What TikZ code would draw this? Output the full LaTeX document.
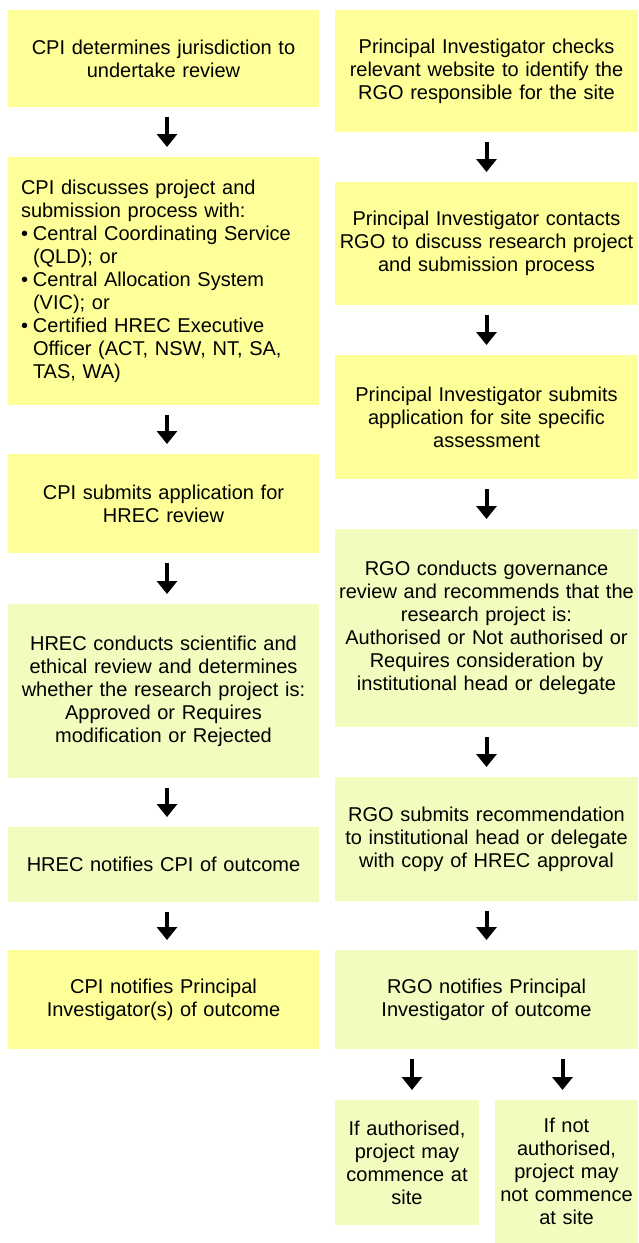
\documentclass[tikz,border=0pt]{standalone}
\usepackage{fontspec}
\setmainfont{Liberation Sans}
\usetikzlibrary{arrows.meta,calc}
\definecolor{boxyellow}{RGB}{255,255,153}
\definecolor{boxgreen}{RGB}{240,253,190}
\tikzset{
  base/.style={inner sep=0pt, outer sep=0pt, font=\fontsize{20}{23}\selectfont, align=center},
  lcol/.style={base, minimum width=311pt, text width=307pt},
  rcol/.style={base, minimum width=303pt, text width=299pt},
  yel/.style={fill=boxyellow},
  grn/.style={fill=boxgreen},
  arr/.style={line width=4pt, -{Triangle[width=20pt,length=13pt]}, shorten <=10pt, shorten >=10pt},
}
\newcommand{\bul}{\makebox[12pt][l]{\textbullet}}
\newcommand{\hang}{\hspace*{12pt}}
\begin{document}
\begin{tikzpicture}[x=1pt,y=-1pt]
\useasboundingbox (0,0) rectangle (638,1243);
% left column
\node[lcol,yel,minimum height=97pt] (l1) at (163.5,58.5) {CPI determines jurisdiction to\\undertake review};
\node[base,yel,minimum width=311pt,minimum height=248pt,text width=285pt,align=left] (l2) at (163.5,281)
 {CPI discusses project and\\submission process with:\\\bul Central Coordinating Service\\\hang(QLD); or\\\bul Central Allocation System\\\hang(VIC); or\\\bul Certified HREC Executive\\\hang Officer (ACT, NSW, NT, SA,\\\hang TAS, WA)};
\node[lcol,yel,minimum height=99pt] (l3) at (163.5,503.5) {CPI submits application for\\HREC review};
\node[lcol,grn,minimum height=174pt] (l4) at (163.5,691) {HREC conducts scientific and\\ethical review and determines\\whether the research project is:\\Approved or Requires\\modification or Rejected};
\node[lcol,grn,minimum height=75pt] (l5) at (163.5,864.5) {HREC notifies CPI of outcome};
\node[lcol,yel,minimum height=99pt] (l6) at (163.5,999.5) {CPI notifies Principal\\Investigator(s) of outcome};
% right column
\node[rcol,yel,minimum height=122pt] (r1) at (486.5,71) {Principal Investigator checks\\relevant website to identify the\\RGO responsible for the site};
\node[rcol,yel,minimum height=123pt] (r2) at (486.5,243.5) {Principal Investigator contacts\\RGO to discuss research project\\and submission process};
\node[rcol,yel,minimum height=124pt] (r3) at (486.5,417) {Principal Investigator submits\\application for site specific\\assessment};
\node[rcol,grn,minimum height=198pt] (r4) at (486.5,628) {RGO conducts governance\\review and recommends that the\\research project is:\\Authorised or Not authorised or\\Requires consideration by\\institutional head or delegate};
\node[rcol,grn,minimum height=124pt] (r5) at (486.5,839) {RGO submits recommendation\\to institutional head or delegate\\with copy of HREC approval};
\node[rcol,grn,minimum height=99pt] (r6) at (486.5,999.5) {RGO notifies Principal\\Investigator of outcome};
\node[base,grn,minimum width=144pt,minimum height=125pt,text width=140pt] (s1) at (407,1162.5) {If authorised,\\project may\\commence at\\site};
\node[base,grn,minimum width=143pt,minimum height=143pt,text width=139pt] (s2) at (566.5,1171.5) {If not\\authorised,\\project may\\not commence\\at site};
% arrows
\foreach \a/\b in {l1/l2,l2/l3,l3/l4,l4/l5,l5/l6}
  \draw[arr] ($(\a.south)+(3.5,0)$) -- ($(\b.north)+(3.5,0)$);
\foreach \a/\b in {r1/r2,r2/r3,r3/r4,r4/r5,r5/r6}
  \draw[arr] (\a.south) -- (\b.north);
\draw[arr] ($(r6.south -| s1.north)+(5,0)$) -- ($(s1.north)+(5,0)$);
\draw[arr] ($(r6.south -| s2.north)+(-4,0)$) -- ($(s2.north)+(-4,0)$);
\end{tikzpicture}
\end{document}
